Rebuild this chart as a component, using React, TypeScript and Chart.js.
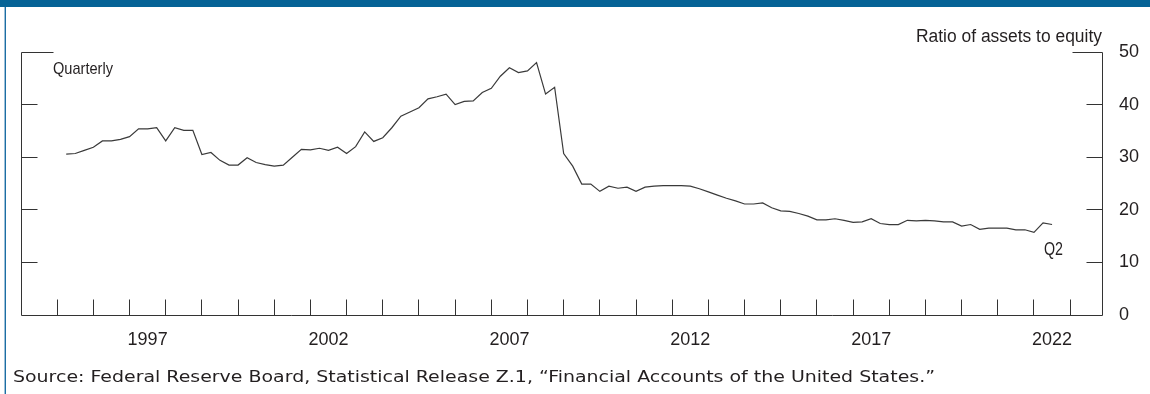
import React, { useEffect, useLayoutEffect, useRef } from "react";
import { Chart, registerables } from "chart.js";

Chart.register(...registerables);

// ---------------- data ----------------
const startYear = 1995; // first observation: 1995 Q1
const quarterNames = ["Q1", "Q2", "Q3", "Q4"];

// Ratio of assets to equity, quarterly, 1995 Q1 .. 2022 Q2
const leverage = [
  30.6, 30.7, 31.3, 31.9, 33.1, 33.1, 33.4, 33.9, 35.4, 35.4, 35.6, 33.1,
  35.6, 35.1, 35.1, 30.5, 30.9, 29.4, 28.5, 28.5, 29.9, 29.0, 28.6, 28.3,
  28.5, 30.0, 31.5, 31.4, 31.7, 31.3, 31.9, 30.7, 32.0, 34.8, 33.0, 33.7,
  35.6, 37.8, 38.6, 39.4, 41.1, 41.5, 42.0, 40.0, 40.6, 40.7, 42.3, 43.1,
  45.4, 47.0, 46.1, 46.4, 48.0, 42.0, 43.3, 30.7, 28.3, 24.9, 24.9, 23.5,
  24.5, 24.1, 24.3, 23.5, 24.3, 24.5, 24.6, 24.6, 24.6, 24.5, 24.0, 23.4,
  22.8, 22.2, 21.7, 21.1, 21.1, 21.3, 20.4, 19.8, 19.7, 19.3, 18.8, 18.1,
  18.1, 18.3, 18.0, 17.6, 17.7, 18.3, 17.4, 17.2, 17.2, 18.0, 17.9, 18.0,
  17.9, 17.7, 17.7, 16.9, 17.2, 16.3, 16.5, 16.5, 16.5, 16.2, 16.2, 15.7,
  17.5, 17.2,
];

const xTickLabels = ["1997", "2002", "2007", "2012", "2017", "2022"];
const yearTickMarks = [
  1995, 1996, 1997, 1998, 1999, 2000, 2001, 2002, 2003, 2004, 2005, 2006,
  2007, 2008, 2009, 2010, 2011, 2012, 2013, 2014, 2015, 2016, 2017, 2018,
  2019, 2020, 2021, 2022, 2023,
];
const yTickValues = [0, 10, 20, 30, 40, 50];

const yTitle = "Ratio of assets to equity";
const freqNote = "Quarterly";
const lastLabel = "Q2";
const sourceText =
  "Source: Federal Reserve Board, Statistical Release Z.1, \u201CFinancial Accounts of the United States.\u201D";

// ---------------- helpers ----------------
const SANS = "'Liberation Sans', Arial, Helvetica, sans-serif";
const WIDE = "'DejaVu Sans', Verdana, sans-serif";
const INK = "#231f20";
const LINE = "#333333";

function FitText(props: {
  text: string;
  left: number;
  baseline: number;
  width: number;
  size: number;
  family: string;
}) {
  const ref = useRef<HTMLSpanElement>(null);
  useLayoutEffect(() => {
    const fit = () => {
      const el = ref.current;
      if (!el) return;
      el.style.transform = "none";
      const w = el.getBoundingClientRect().width;
      if (w > 0) el.style.transform = `scaleX(${props.width / w})`;
    };
    fit();
    if ((document as any).fonts && (document as any).fonts.ready) {
      (document as any).fonts.ready.then(fit);
    }
  }, [props.text, props.width, props.size, props.family]);
  return (
    <div
      style={{
        position: "absolute",
        left: props.left,
        top: props.baseline - 0.8465 * props.size,
        height: props.size,
        lineHeight: `${props.size}px`,
        fontSize: props.size,
        fontFamily: props.family,
        whiteSpace: "nowrap",
        color: INK,
      }}
    >
      <span ref={ref} style={{ display: "inline-block", transformOrigin: "0 0" }}>
        {props.text}
      </span>
    </div>
  );
}

const snap = (v: number) => Math.floor(v) + 0.5;

const axesPlugin = {
  id: "fedAxes",
  afterDatasetsDraw(chart: any) {
    const { ctx, chartArea, scales } = chart;
    const x = scales.x;
    const y = scales.y;
    const L = snap(chartArea.left);
    const R = snap(chartArea.right);
    const B = snap(y.getPixelForValue(0));
    const T = snap(y.getPixelForValue(50));
    ctx.save();
    ctx.strokeStyle = LINE;
    ctx.lineWidth = 1;
    ctx.beginPath();
    // frame: left, bottom, right
    ctx.moveTo(L, T);
    ctx.lineTo(L, B);
    ctx.lineTo(R, B);
    ctx.lineTo(R, T);
    // y ticks (inward on both sides)
    yTickValues.forEach((v) => {
      if (v === 0) return;
      const py = snap(y.getPixelForValue(v));
      const len = v === 50 ? 32 : 16;
      const lenR = v === 50 ? 30 : 16;
      ctx.moveTo(L, py);
      ctx.lineTo(L + len, py);
      ctx.moveTo(R, py);
      ctx.lineTo(R - lenR, py);
    });
    // x year ticks (upward)
    yearTickMarks.forEach((yr) => {
      const px = snap(x.getPixelForValue(yr));
      ctx.moveTo(px, B);
      ctx.lineTo(px, B - 16);
    });
    ctx.stroke();
    ctx.restore();
  },
};

export default function App() {
  const canvasRef = useRef<HTMLCanvasElement>(null);

  useEffect(() => {
    document.body.style.margin = "0";
    const canvas = canvasRef.current;
    if (!canvas) return;

    const points = leverage.map((v, i) => {
      const year = startYear + Math.floor(i / 4);
      const q = i % 4;
      return { x: year + (q + 1) / 4, y: v, label: `${year} ${quarterNames[q]}` };
    });

    const tickFont = { family: SANS, size: 18 };

    const chart = new Chart(canvas, {
      type: "line",
      data: {
        datasets: [
          {
            label: yTitle,
            data: points as any,
            borderColor: "#3a3a3a",
            borderWidth: 1.2,
            pointRadius: 0,
            tension: 0,
            fill: false,
          },
        ],
      },
      options: {
        responsive: false,
        animation: false,
        devicePixelRatio: 1,
        layout: { padding: { left: 21, top: 52, right: 0, bottom: 0 } },
        plugins: {
          legend: { display: false },
          tooltip: { enabled: false },
        },
        scales: {
          x: {
            type: "linear",
            position: "bottom",
            min: 1994,
            max: 2023.88,
            grid: { display: false, drawTicks: false },
            border: { display: false },
            afterBuildTicks: (s: any) => {
              s.ticks = xTickLabels.map((l) => ({ value: Number(l) + 0.5 }));
            },
            ticks: {
              autoSkip: false,
              maxRotation: 0,
              minRotation: 0,
              padding: 14,
              color: INK,
              font: tickFont,
              callback: (_v: any, i: number) => xTickLabels[i],
            },
            afterFit: (s: any) => {
              s.height = 79;
            },
          },
          y: {
            type: "linear",
            position: "right",
            min: 0,
            max: 50,
            grid: { display: false, drawTicks: false },
            border: { display: false },
            afterBuildTicks: (s: any) => {
              s.ticks = yTickValues.map((v) => ({ value: v }));
            },
            ticks: {
              padding: 17,
              color: INK,
              font: tickFont,
              callback: (v: any) => String(v),
            },
            afterFit: (s: any) => {
              s.width = 48;
            },
          },
        },
      } as any,
      plugins: [axesPlugin],
    });

    return () => chart.destroy();
  }, []);

  return (
    <div
      style={{
        position: "absolute",
        left: 0,
        top: 0,
        width: 1150,
        height: 394,
        overflow: "hidden",
        background: "#ffffff",
      }}
    >
      <canvas
        ref={canvasRef}
        width={1150}
        height={394}
        style={{ position: "absolute", left: 0, top: 0, width: 1150, height: 394 }}
      />
      {/* top band */}
      <div style={{ position: "absolute", left: 0, top: 0, width: 1150, height: 7, background: "#056396" }} />
      {/* left rule */}
      <div style={{ position: "absolute", left: 4, top: 7, width: 1, height: 387, background: "#9dc0d9" }} />
      <div style={{ position: "absolute", left: 5, top: 7, width: 1, height: 387, background: "#1c6ea3" }} />

      <FitText text={yTitle} left={915.7} baseline={42.7} width={186} size={18} family={SANS} />
      <FitText text={freqNote} left={53.3} baseline={74} width={60} size={17} family={SANS} />
      <FitText text={lastLabel} left={1044.3} baseline={255} width={19} size={18} family={SANS} />
      <FitText text={sourceText} left={12.7} baseline={383.3} width={922} size={16.5} family={WIDE} />
    </div>
  );
}
